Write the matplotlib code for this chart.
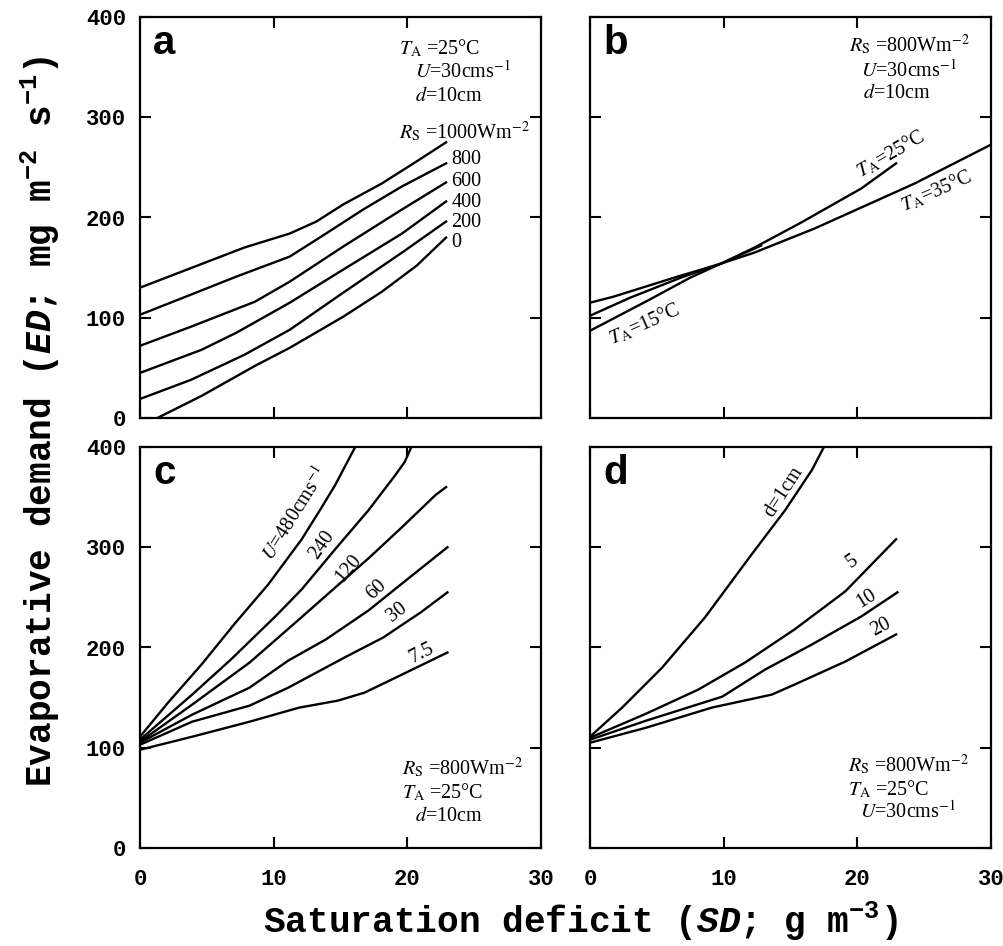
import matplotlib
matplotlib.use("Agg")
import matplotlib.pyplot as plt

plt.rcParams["mathtext.fontset"] = "custom"
plt.rcParams["mathtext.rm"] = "Liberation Mono:bold"
plt.rcParams["mathtext.it"] = "Liberation Mono:italic:bold"
plt.rcParams["mathtext.bf"] = "Liberation Mono:bold"

# ---- panel a: solar radiation (Rs) ----
a_labels = ["1000", "800", "600", "400", "200", "0"]
a_1000_sd = [0, 7.8, 11.2, 13.2, 15.2, 18.1, 20.7, 22.9]
a_1000_ed = [130, 170, 184, 196, 213, 234, 256, 275]
a_800_sd = [0, 3.8, 7.2, 11.2, 13.8, 16.7, 19.6, 22.9]
a_800_ed = [103, 123, 141, 161, 183, 208, 231, 254]
a_600_sd = [0, 3.8, 8.6, 11.2, 15.2, 19.6, 22.9]
a_600_ed = [72, 91, 116, 136, 171, 208, 235]
a_400_sd = [0, 4.6, 7.2, 11.2, 15.2, 19.6, 22.9]
a_400_ed = [45, 68, 85, 115, 148, 184, 216]
a_200_sd = [0, 3.8, 7.8, 11.2, 15.2, 19.6, 22.9]
a_200_ed = [19, 38, 63, 88, 125, 165, 196]
a_0_sd = [1.3, 4.6, 8.6, 11.2, 15.2, 18.1, 20.7, 22.9]
a_0_ed = [0, 22, 52, 70, 101, 126, 152, 180]

# ---- panel b: air temperature (TA) ----
b_35_sd = [0, 1.75, 6.3, 9.8, 12.3, 16.8, 20.3, 24.3, 29.9]
b_35_ed = [115, 121, 140, 154, 165, 189, 210, 234, 272]
b_25_sd = [0, 3, 6.8, 9.8, 12.3, 15.8, 20.3, 22.9]
b_25_ed = [102, 120, 140, 154, 170, 195, 229, 254]
b_15_sd = [0, 4.3, 7.5, 9.8, 12.8]
b_15_ed = [87, 117, 140, 154, 172]

# ---- panel c: wind speed (U) ----
c_labels = ["$U$=480cms$^{-1}$", "240", "120", "60", "30", "7.5"]
c_480_sd = [0, 2.1, 4.6, 7.1, 9.6, 12.1, 13.6, 14.6, 16.1]
c_480_ed = [111, 145, 183, 224, 263, 308, 340, 362, 400]
c_240_sd = [0, 3.9, 6.8, 10.2, 12.1, 14.6, 17.1, 19.1, 19.8, 20.3]
c_240_ed = [108, 153, 188, 232, 258, 298, 337, 372, 385, 400]
c_120_sd = [0, 3.9, 8.2, 11.9, 15.3, 17.1, 19.6, 22.1, 22.9]
c_120_ed = [106, 143, 185, 228, 268, 289, 320, 352, 360]
c_60_sd = [0, 3.9, 8.2, 11.1, 13.9, 17.1, 19.9, 23]
c_60_ed = [105, 133, 160, 187, 208, 237, 267, 300]
c_30_sd = [0, 3.9, 8.2, 11.1, 15.3, 18.2, 21, 23]
c_30_ed = [103, 126, 142, 160, 190, 210, 235, 255]
c_7_sd = [0, 3.9, 8.2, 11.9, 14.8, 16.8, 19.6, 23]
c_7_ed = [98, 111, 126, 140, 147, 155, 173, 195]

# ---- panel d: leaf size (d) ----
d_labels = ["d=1cm", "5", "10", "20"]
d_1_sd = [0, 2.4, 5.4, 8.6, 12.1, 14.6, 16.6, 17.5]
d_1_ed = [111, 140, 180, 230, 293, 337, 377, 400]
d_5_sd = [0, 4.2, 8.1, 11.6, 15.3, 19.1, 22.9]
d_5_ed = [110, 134, 158, 185, 218, 256, 308]
d_10_sd = [0, 4.2, 9.9, 13.1, 16.6, 20.3, 23]
d_10_ed = [108, 127, 151, 178, 203, 231, 255]
d_20_sd = [0, 4.2, 9.1, 13.6, 15.3, 19.1, 22.9]
d_20_ed = [105, 120, 140, 153, 163, 186, 213]

x_ticks = [0, 10, 20, 30]
y_ticks = [0, 100, 200, 300, 400]

LW = 1.7
SERIF = dict(family="Liberation Serif", fontsize=14.5, math_fontfamily="stix")

fig = plt.figure(figsize=(10.04, 9.46), dpi=100)
W, H = 1004, 946


def make_ax(x0, y0, x1, y1, letter, xlab, ylab):
    ax = fig.add_axes([x0 / W, 1 - y1 / H, (x1 - x0) / W, (y1 - y0) / H])
    ax.set_xlim(0, 30)
    ax.set_ylim(0, 400)
    ax.set_xticks(x_ticks)
    ax.set_yticks(y_ticks)
    ax.tick_params(direction="in", top=True, right=True, length=8, width=1.5,
                   labelbottom=xlab, labelleft=ylab)
    ax.tick_params(axis="x", pad=15)
    ax.tick_params(axis="y", pad=10)
    for lbl in ax.get_xticklabels() + ax.get_yticklabels():
        lbl.set_fontfamily("Liberation Mono")
        lbl.set_fontweight("bold")
        lbl.set_fontsize(16)
    for s in ax.spines.values():
        s.set_linewidth(1.6)
    ax.text(0.033, 0.907, letter, transform=ax.transAxes, ha="left", va="baseline",
            family="Liberation Sans", fontweight="bold", fontsize=29)
    return ax


# panel a
ax = make_ax(140, 17, 541, 418, "a", False, True)
for sd, ed in [(a_1000_sd, a_1000_ed), (a_800_sd, a_800_ed), (a_600_sd, a_600_ed),
               (a_400_sd, a_400_ed), (a_200_sd, a_200_ed), (a_0_sd, a_0_ed)]:
    ax.plot(sd, ed, color="black", lw=LW)
ax.text(19.4, 369, "$T_{\\rm A}$ =25°C", ha="left", va="center", **SERIF)
ax.text(20.6, 346, "$U$=30cms$^{-1}$", ha="left", va="center", **SERIF)
ax.text(20.6, 321, "$d$=10cm", ha="left", va="center", **SERIF)
ax.text(19.4, 286, "$R_{\\rm S}$ =" + a_labels[0] + "Wm$^{-2}$", ha="left", va="center", **SERIF)
for lab, yy in zip(a_labels[1:], [258, 236, 215, 195, 175]):
    ax.text(23.3, yy, lab, ha="left", va="center", **SERIF)

# panel b
ax = make_ax(590, 17, 991, 418, "b", False, False)
for sd, ed in [(b_35_sd, b_35_ed), (b_25_sd, b_25_ed), (b_15_sd, b_15_ed)]:
    ax.plot(sd, ed, color="black", lw=LW)
ax.text(19.4, 372, "$R_{\\rm S}$ =800Wm$^{-2}$", ha="left", va="center", **SERIF)
ax.text(20.3, 347, "$U$=30cms$^{-1}$", ha="left", va="center", **SERIF)
ax.text(20.4, 324, "$d$=10cm", ha="left", va="center", **SERIF)
ax.text(22.5, 264, "$T_{\\rm A}$=25°C", ha="center", va="center", rotation=30,
        rotation_mode="anchor", **SERIF)
ax.text(25.9, 227, "$T_{\\rm A}$=35°C", ha="center", va="center", rotation=24,
        rotation_mode="anchor", **SERIF)
ax.text(4.1, 94, "$T_{\\rm A}$=15°C", ha="center", va="center", rotation=24,
        rotation_mode="anchor", **SERIF)

# panel c
ax = make_ax(140, 447, 541, 848, "c", True, True)
for sd, ed in [(c_480_sd, c_480_ed), (c_240_sd, c_240_ed), (c_120_sd, c_120_ed),
               (c_60_sd, c_60_ed), (c_30_sd, c_30_ed), (c_7_sd, c_7_ed)]:
    ax.plot(sd, ed, color="black", lw=LW)
for lab, xx, yy, rot in zip(c_labels, [11.6, 13.6, 15.6, 17.7, 19.2, 21.1],
                            [334, 302, 279, 258, 235, 194], [58, 55, 50, 43, 38, 27]):
    ax.text(xx, yy, lab, ha="center", va="center", rotation=rot,
            rotation_mode="anchor", **SERIF)
ax.text(19.6, 80, "$R_{\\rm S}$ =800Wm$^{-2}$", ha="left", va="center", **SERIF)
ax.text(19.6, 55, "$T_{\\rm A}$ =25°C", ha="left", va="center", **SERIF)
ax.text(20.6, 31, "$d$=10cm", ha="left", va="center", **SERIF)

# panel d
ax = make_ax(590, 447, 991, 848, "d", True, False)
for sd, ed in [(d_1_sd, d_1_ed), (d_5_sd, d_5_ed), (d_10_sd, d_10_ed), (d_20_sd, d_20_ed)]:
    ax.plot(sd, ed, color="black", lw=LW)
for lab, xx, yy, rot in zip(d_labels, [14.5, 19.6, 20.7, 21.8],
                            [355, 286, 249, 220], [57, 35, 32, 28]):
    ax.text(xx, yy, lab, ha="center", va="center", rotation=rot,
            rotation_mode="anchor", **SERIF)
ax.text(19.3, 83, "$R_{\\rm S}$ =800Wm$^{-2}$", ha="left", va="center", **SERIF)
ax.text(19.3, 58, "$T_{\\rm A}$ =25°C", ha="left", va="center", **SERIF)
ax.text(20.2, 36, "$U$=30cms$^{-1}$", ha="left", va="center", **SERIF)

# axis labels
fig.text(580 / W, 1 - 933 / H, "Saturation deficit ($\\mathit{SD}$; g m$^{-3}$)",
         ha="center", va="baseline", family="Liberation Mono", fontweight="bold", fontsize=26)
fig.text(40 / W, 1 - 421 / H, "Evaporative demand ($\\mathit{ED}$; mg m$^{-2}$ s$^{-1}$)",
         ha="center", va="center", rotation=90, family="Liberation Mono",
         fontweight="bold", fontsize=26)

fig.savefig("out.png", dpi=100)
